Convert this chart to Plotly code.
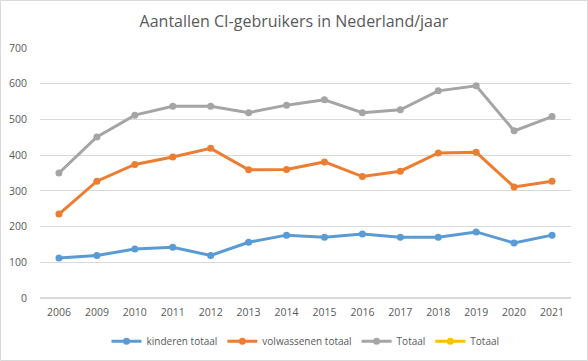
import plotly.graph_objects as go

years = ["2006", "2009", "2010", "2011", "2012", "2013", "2014", "2015",
         "2016", "2017", "2018", "2019", "2020", "2021"]
kinderen = [112, 119, 137, 142, 119, 156, 176, 170, 179, 170, 170, 185, 154, 176]
volwassenen = [235, 327, 374, 395, 419, 359, 360, 381, 340, 355, 406, 408, 311, 327]
totaal = [350, 451, 512, 537, 537, 519, 540, 555, 519, 527, 580, 594, 468, 508]
totaal2 = [None] * len(years)

series = [
    ("kinderen totaal", kinderen, "#5B9BD5"),
    ("volwassenen totaal", volwassenen, "#ED7D31"),
    ("Totaal", totaal, "#A5A5A5"),
    ("Totaal", totaal2, "#FFC000"),
]

FONT = "Open Sans, Liberation Sans, sans-serif"

fig = go.Figure()
for name, vals, col in series:
    fig.add_trace(go.Scatter(
        x=years, y=vals, name=name, mode="lines+markers",
        line=dict(color=col, width=3),
        marker=dict(color=col, size=7),
    ))

fig.update_layout(
    width=588, height=361,
    margin=dict(l=40, r=17, t=48, b=63, autoexpand=False),
    paper_bgcolor="white", plot_bgcolor="white",
    font=dict(family=FONT, color="#595959", size=11),
    title=dict(text="Aantallen CI-gebruikers in Nederland/jaar", x=0.5, xanchor="center",
               y=0.94, yanchor="middle",
               font=dict(size=16, color="#595959", family=FONT)),
    xaxis=dict(type="category", range=[-0.5, len(years) - 0.5], showgrid=False,
               showline=False, ticks="", automargin=False, ticklabelstandoff=6,
               tickfont=dict(size=10.5, color="#595959"), fixedrange=True),
    yaxis=dict(range=[0, 700], dtick=100, showgrid=True, gridcolor="#D9D9D9",
               gridwidth=1, zeroline=True, zerolinecolor="#D9D9D9", showline=False,
               ticks="", automargin=False, ticklabelstandoff=12,
               tickfont=dict(size=10.5, color="#595959"), fixedrange=True),
    legend=dict(orientation="h", x=0.5, xanchor="center", yref="container",
                y=0.055, yanchor="middle",
                font=dict(size=10, color="#595959"), itemwidth=30, traceorder="normal"),
    showlegend=True,
    hovermode=False,
)
fig.add_shape(type="rect", xref="paper", yref="paper",
              x0=-0.0744, x1=1.031, y0=-0.25, y1=1.19,
              line=dict(color="#D9D9D9", width=1), layer="below")
fig.write_html("out.html", config={"displayModeBar": False},
               post_script="document.body.style.margin='0';document.body.style.overflow='hidden';")
